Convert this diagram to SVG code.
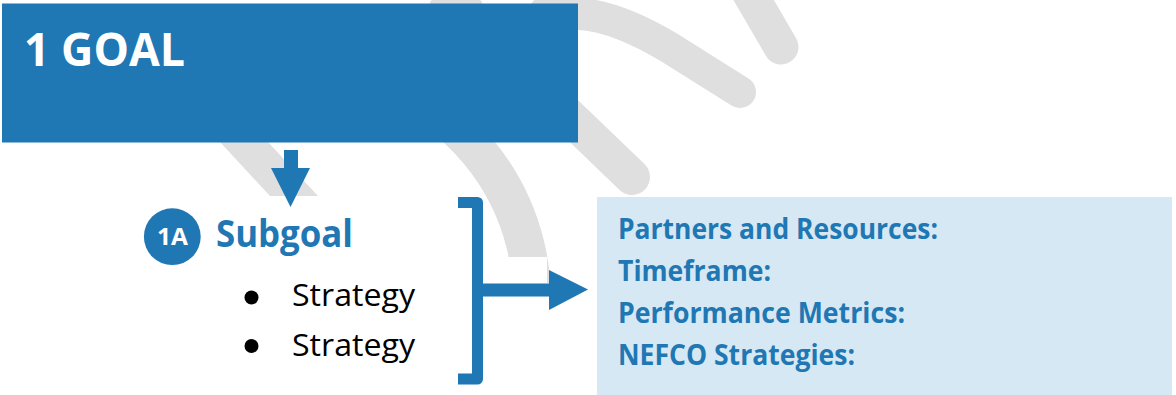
<svg xmlns="http://www.w3.org/2000/svg" width="1176" height="395" viewBox="0 0 1176 395">
  <style>
    .wm { fill: none; stroke: #dfdfdf; }
    .wmf { fill: #dfdfdf; }
    .blue { fill: #1f77b4; }
    .bt { font-family: "Open Sans", Lato, "Liberation Sans", sans-serif; font-weight: bold; fill: #1f77b4; }
    .wt { font-family: "Open Sans", Lato, "Liberation Sans", sans-serif; font-weight: bold; fill: #ffffff; }
    .st { font-family: "Open Sans", Lato, "Liberation Sans", sans-serif; fill: #000000; font-size: 31px; }
    .conn { fill: none; stroke: #1f77b4; }
  </style>
  <defs>
    <clipPath id="arcClip">
      <polygon points="0,0 1176,0 1176,283 547,283 547,257 0,257"/>
    </clipPath>
  </defs>
  <rect width="1176" height="395" fill="#ffffff"/>

  <g id="watermark">
    <path class="wm" clip-path="url(#arcClip)" stroke-width="38" d="M 300 68 A 232 232 0 0 1 528.5 340.3"/>
    <polygon class="wmf" points="150,70 198,70 268,142 318,196 270,196 220,142"/>
    <rect class="wmf" x="430" y="0" width="52" height="8" rx="3"/>
    <path class="wm" stroke-width="32" stroke-linecap="round" d="M 545 12 L 580 14 C 610 16, 640 30, 670 48 L 740 92"/>
    <path class="wm" stroke-width="35" stroke-linecap="round" d="M 742 -20 L 781 47"/>
    <path class="wm" stroke-width="36" stroke-linecap="round" d="M 520 70 L 578 125 L 632 177"/>
  </g>

  <g id="goal">
    <rect class="blue" x="2" y="3.5" width="576" height="139"/>
    <text class="wt" x="24" y="66" font-size="46" textLength="161" lengthAdjust="spacingAndGlyphs">1 GOAL</text>
  </g>

  <g id="details">
    <rect x="597" y="197" width="575" height="198" fill="#d6e8f3"/>
    <text class="bt" x="618" y="239" font-size="28" textLength="320" lengthAdjust="spacingAndGlyphs">Partners and Resources:</text>
    <text class="bt" x="618" y="281" font-size="28" textLength="153" lengthAdjust="spacingAndGlyphs">Timeframe:</text>
    <text class="bt" x="618" y="323" font-size="28" textLength="287" lengthAdjust="spacingAndGlyphs">Performance Metrics:</text>
    <text class="bt" x="618" y="365" font-size="28" textLength="237" lengthAdjust="spacingAndGlyphs">NEFCO Strategies:</text>
  </g>

  <g id="subgoal">
    <circle class="blue" cx="172.3" cy="236.7" r="28.4"/>
    <text class="wt" x="157" y="245" font-size="24" textLength="31" lengthAdjust="spacingAndGlyphs">1A</text>
    <text class="bt" x="216" y="247" font-size="37.5" textLength="137" lengthAdjust="spacingAndGlyphs">Subgoal</text>
  </g>

  <g id="strategies">
    <circle cx="251.5" cy="297.5" r="7" fill="#000000"/>
    <text class="st" x="292" y="306" textLength="123" lengthAdjust="spacingAndGlyphs">Strategy</text>
    <circle cx="251.5" cy="346" r="7" fill="#000000"/>
    <text class="st" x="292" y="356" textLength="123" lengthAdjust="spacingAndGlyphs">Strategy</text>
  </g>

  <g id="connectors">
    <rect class="blue" x="284" y="150" width="14" height="19"/>
    <polygon class="blue" points="271,168 310,168 290.5,207"/>
    <path class="conn" stroke-width="11" stroke-linejoin="round" d="M 458 202.5 H 477.5 V 379 H 458"/>
    <rect class="blue" x="477" y="283.5" width="74" height="13"/>
    <polygon class="blue" points="549,270 588,289.5 549,310"/>
  </g>
</svg>
